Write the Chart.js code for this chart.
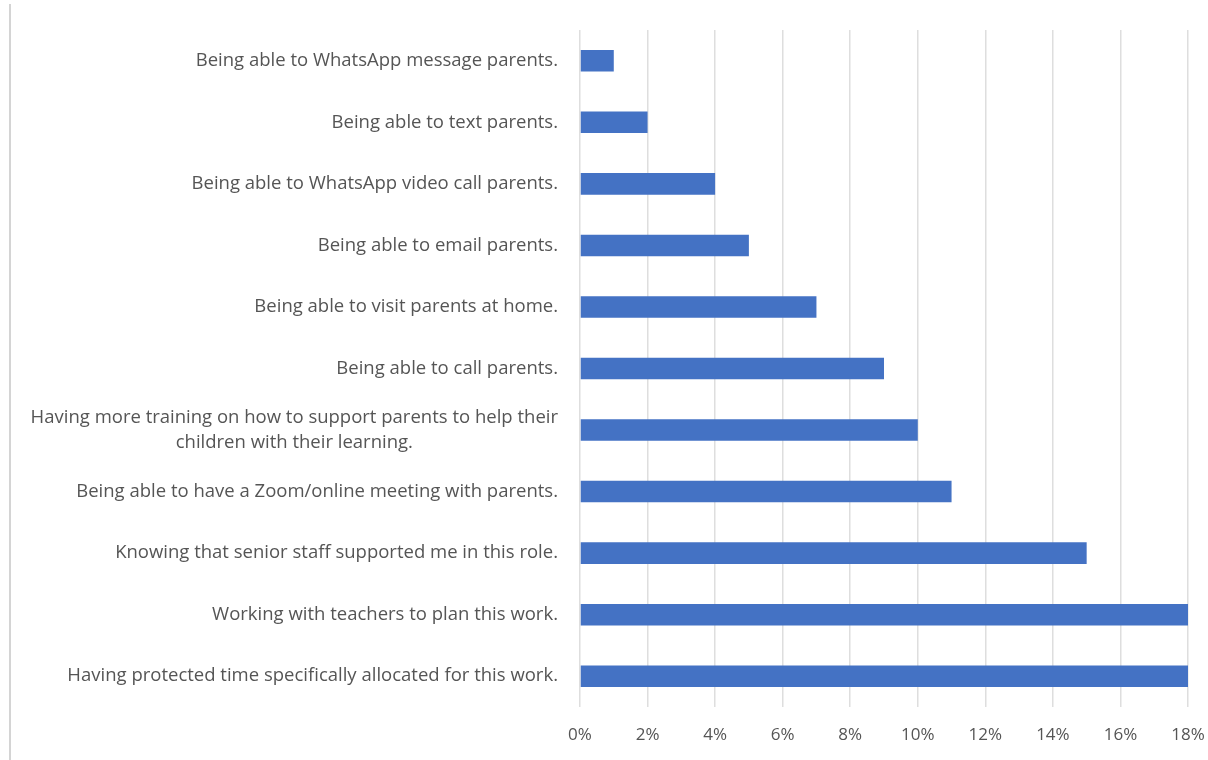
<!DOCTYPE html>
<html>
<head>
<meta charset="utf-8">
<script src="https://cdn.jsdelivr.net/npm/chart.js@4/dist/chart.umd.min.js"></script>
<style>
  html, body { margin: 0; padding: 0; background: #fff; }
  #wrap { position: relative; width: 1208px; height: 760px; }
  #frame { position: absolute; left: 9px; top: 4px; bottom: 0; border-left: 2px solid #d4d4d4; }
</style>
</head>
<body>
<div id="wrap">
  <div id="frame"></div>
  <canvas id="chart" width="1208" height="760"></canvas>
</div>
<script>
const categories = [
  ["Being able to WhatsApp message parents."],
  ["Being able to text parents."],
  ["Being able to WhatsApp video call parents."],
  ["Being able to email parents."],
  ["Being able to visit parents at home."],
  ["Being able to call parents."],
  ["Having more training on how to support parents to help their", "children with their learning."],
  ["Being able to have a Zoom/online meeting with parents."],
  ["Knowing that senior staff supported me in this role."],
  ["Working with teachers to plan this work."],
  ["Having protected time specifically allocated for this work."]
];
const percentages = [1, 2, 4, 5, 7, 9, 10, 11, 15, 18, 18];
const tickValues = [0, 2, 4, 6, 8, 10, 12, 14, 16, 18];

const textColor = "#555555";
const labelFont = "18.5px 'Open Sans', sans-serif";

// category labels: right aligned, multi-line labels centred on their widest line
const categoryLabels = {
  id: "categoryLabels",
  afterDraw(chart) {
    const { ctx, scales } = chart;
    const y = scales.y;
    const right = chart.chartArea.left - 22;
    const lineHeight = 25;
    ctx.save();
    ctx.font = labelFont;
    ctx.fillStyle = textColor;
    ctx.textBaseline = "middle";
    ctx.textAlign = "center";
    categories.forEach((lines, i) => {
      const cy = y.getPixelForValue(i);
      const maxW = Math.max(...lines.map((l) => ctx.measureText(l).width));
      const cx = right - maxW / 2;
      const start = cy - ((lines.length - 1) * lineHeight) / 2;
      lines.forEach((l, j) => ctx.fillText(l, cx, start + j * lineHeight));
    });
    ctx.restore();
  }
};

new Chart(document.getElementById("chart"), {
  type: "bar",
  data: {
    labels: categories.map((c) => c.join(" ")),
    datasets: [
      {
        data: percentages,
        backgroundColor: "#4472C4",
        borderWidth: 0,
        categoryPercentage: 1,
        barPercentage: 0.35
      }
    ]
  },
  options: {
    indexAxis: "y",
    responsive: false,
    animation: false,
    layout: { padding: { top: 30, right: 0, bottom: 0, left: 0 } },
    plugins: { legend: { display: false }, tooltip: { enabled: false } },
    scales: {
      x: {
        min: 0,
        max: 18,
        afterBuildTicks(axis) {
          axis.ticks = tickValues.map((v) => ({ value: v }));
        },
        ticks: {
          callback: (v) => v + "%",
          color: textColor,
          font: { family: "'Open Sans', sans-serif", size: 17 },
          padding: 18,
          maxRotation: 0
        },
        grid: { color: "#dedede", lineWidth: 1.5, drawTicks: false },
        border: { display: false },
        afterFit(axis) {
          axis.height = 53;
          axis.paddingLeft = 0;
          axis.paddingRight = 20;
        }
      },
      y: {
        ticks: { display: false },
        grid: { display: false },
        border: { display: false },
        afterFit(axis) { axis.width = 580; }
      }
    }
  },
  plugins: [categoryLabels]
});
</script>
</body>
</html>
